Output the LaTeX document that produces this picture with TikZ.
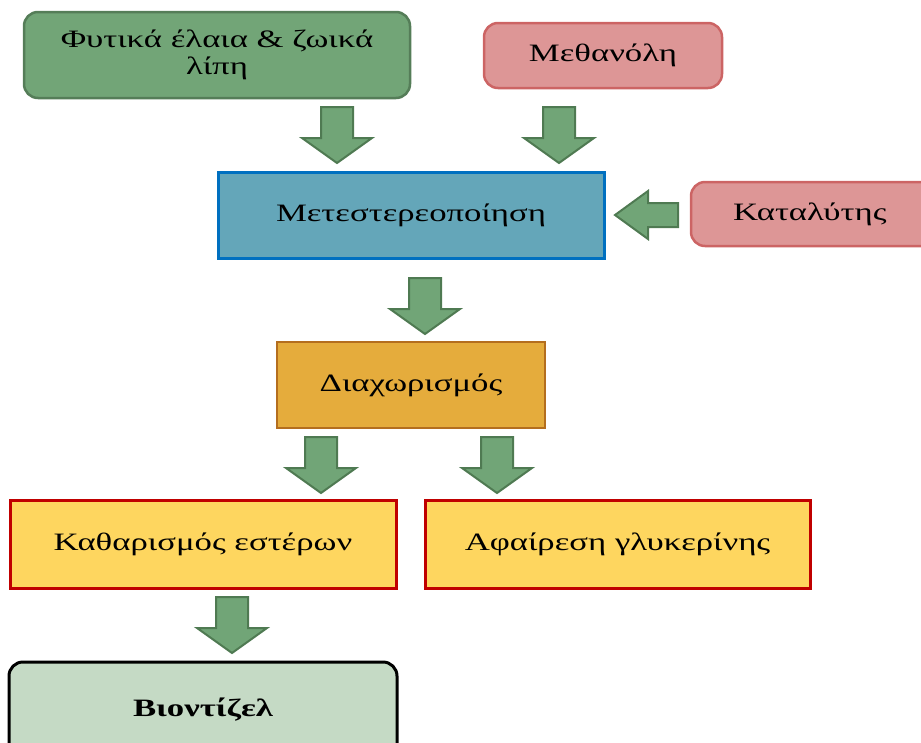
\documentclass[tikz,border=0pt]{standalone}
\usepackage{fontspec}
\setmainfont{Liberation Serif}
\usepackage{graphicx}
\newcommand{\wtxt}[1]{\scalebox{1.39}[1]{#1}}
\definecolor{gfill}{HTML}{72A577}
\definecolor{gline}{HTML}{557D58}
\definecolor{afill}{HTML}{71A577}
\definecolor{aline}{HTML}{4F7A52}
\definecolor{pfill}{HTML}{DD9696}
\definecolor{pline}{HTML}{CC6464}
\definecolor{bfill}{HTML}{64A6B9}
\definecolor{bline}{HTML}{0070C0}
\definecolor{ofill}{HTML}{E5AC3C}
\definecolor{oline}{HTML}{B46E1E}
\definecolor{yfill}{HTML}{FED65F}
\definecolor{yline}{HTML}{C00000}
\definecolor{lgfill}{HTML}{C5DAC5}
\tikzset{
  box/.style={draw, inner sep=0pt, font=\fontsize{25}{28}\selectfont, align=center},
  greenbox/.style={box, fill=gfill, draw=gline, line width=2.5pt, rounded corners=14pt},
  pinkbox/.style={box, fill=pfill, draw=pline, line width=2.5pt, rounded corners=14pt},
  bluebox/.style={box, fill=bfill, draw=bline, line width=3pt},
  orangebox/.style={box, fill=ofill, draw=oline, line width=2.5pt},
  yellowbox/.style={box, fill=yfill, draw=yline, line width=3pt},
  finalbox/.style={box, fill=lgfill, draw=black, line width=3pt, rounded corners=14pt},
  blockarrow/.style={fill=afill, draw=aline, line width=2pt, line join=miter}
}
\newcommand{\downblock}[2]{%
  \path[blockarrow] (#1-16,#2) -- (#1+16,#2) -- (#1+16,#2+31) -- (#1+35,#2+31)
    -- (#1,#2+56) -- (#1-35,#2+31) -- (#1-16,#2+31) -- cycle;}
\begin{document}
\begin{tikzpicture}[x=1pt,y=-1pt]
\useasboundingbox (0,0) rectangle (921,742);
\begin{scope}
\clip (0,0) rectangle (921,742);
\node[greenbox, minimum width=386pt, minimum height=86pt] (oils) at (217,55)
  {\wtxt{Φυτικά έλαια \& ζωικά}\\[-1pt]\wtxt{λίπη}};
\node[pinkbox, minimum width=238pt, minimum height=65pt] (meth) at (603,55.5)
  {\wtxt{Μεθανόλη}};
\node[bluebox, minimum width=386pt, minimum height=86pt] (trans) at (411,215)
  {\wtxt{Μετεστερεοποίηση}};
\node[pinkbox, minimum width=250pt, minimum height=64pt, text width=230pt, align=left] (cat) at (816,214)
  {\hspace*{32pt}\wtxt{Καταλύτης}};
\node[orangebox, minimum width=268pt, minimum height=86pt] (sep) at (411,385)
  {\wtxt{Διαχωρισμός}};
\node[yellowbox, minimum width=386pt, minimum height=88pt] (purif) at (203,544)
  {\wtxt{Καθαρισμός εστέρων}};
\node[yellowbox, minimum width=385pt, minimum height=88pt] (glyc) at (617.5,544)
  {\wtxt{Αφαίρεση γλυκερίνης}};
\node[finalbox, minimum width=388pt, minimum height=96pt] (bio) at (203,710)
  {\wtxt{\bfseries Βιοντίζελ}};
\end{scope}
\downblock{337}{107}
\downblock{559}{107}
\downblock{425}{278}
\downblock{321}{437}
\downblock{497}{437}
\downblock{232}{597}
\path[blockarrow] (678,203) -- (678,227) -- (648,227) -- (648,239) -- (615,215)
  -- (648,191) -- (648,203) -- cycle;
\end{tikzpicture}
\end{document}
